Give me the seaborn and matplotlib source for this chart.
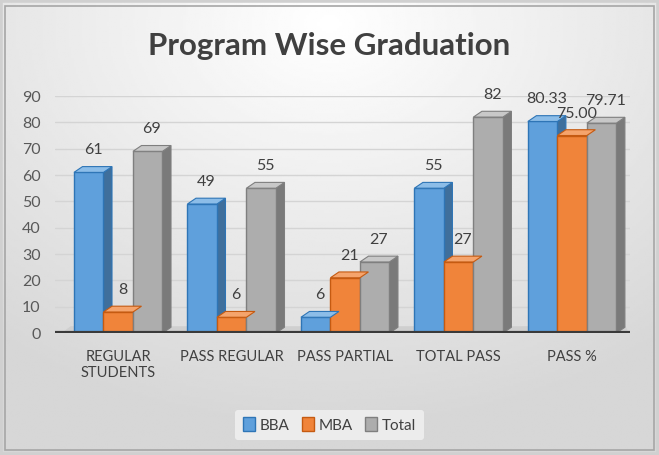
import numpy as np
import pandas as pd
import matplotlib
matplotlib.use("Agg")
import matplotlib.pyplot as plt
from matplotlib.patches import Polygon, Rectangle
import seaborn as sns

categories = ["REGULAR\nSTUDENTS", "PASS REGULAR", "PASS PARTIAL", "TOTAL PASS", "PASS %"]
series = ["BBA", "MBA", "Total"]
bba = [61, 49, 6, 55, 80.33]
mba = [8, 6, 21, 27, 75.00]
total = [69, 55, 27, 82, 79.71]
yticks = [0, 10, 20, 30, 40, 50, 60, 70, 80, 90]

colors = {"BBA": "#5fa0dc", "MBA": "#f0843a", "Total": "#adadad"}
edges = {"BBA": "#2e75b6", "MBA": "#c55a11", "Total": "#7f7f7f"}
sides = {"BBA": "#3f6f9c", "MBA": "#b35b22", "Total": "#7a7a7a"}
tops = {"BBA": "#8cbde8", "MBA": "#f5a46c", "Total": "#c8c8c8"}

rows = []
for name, vals in zip(series, [bba, mba, total]):
    for c, v in zip(categories, vals):
        rows.append({"category": c, "series": name, "value": v})
df = pd.DataFrame(rows)

sns.set_theme(style="white")
plt.rcParams["font.family"] = ["Lato", "DejaVu Sans"]

fig = plt.figure(figsize=(6.59, 4.55), dpi=100)
fig.patch.set_facecolor("#ffffff")

# background gradient panel
bg = fig.add_axes([0, 0, 1, 1], zorder=-10)
yy, xx = np.mgrid[0:1:200j, 0:1:300j]
r = np.sqrt(((xx - 0.5) * 1.1) ** 2 + ((yy - 0.05) * 1.0) ** 2)
img = 1.0 - 0.16 * np.clip(r / 0.9, 0, 1)
bg.imshow(img, cmap="gray", vmin=0, vmax=1, extent=[0, 1, 1, 0], aspect="auto")
bg.add_patch(Rectangle((0.008, 0.012), 0.984, 0.975, transform=bg.transAxes,
                       fill=False, edgecolor="#a6a6a6", lw=1.2))
bg.add_patch(Rectangle((0, 0), 1, 1, transform=bg.transAxes,
                       fill=False, edgecolor="#d0d0d0", lw=4))
bg.set_xlim(0, 1); bg.set_ylim(1, 0)
bg.axis("off")

ax = fig.add_axes([0.083, 0.268, 0.873, 0.521])
ax.patch.set_alpha(0)
sns.barplot(data=df, x="category", y="value", hue="series", hue_order=series,
            palette=colors, saturation=1, width=0.78, ax=ax, legend=False, zorder=3)

ax.set_ylim(0, 90)
ax.set_xlim(-0.56, 4.51)
ax.set_yticks(yticks)
ax.set_yticklabels([str(t) for t in yticks], fontsize=11.5, color="#595959")
ax.tick_params(axis="x", labelsize=10.5, labelcolor="#404040", length=0, pad=12)
ax.tick_params(axis="y", length=0, pad=10)
ax.set_xlabel(""); ax.set_ylabel("")
for s in ax.spines.values():
    s.set_visible(False)
for t in yticks[1:]:
    ax.axhline(t, color="#d4d4d4", lw=1, zorder=0)

# floor plane
ax.add_patch(Polygon([(-0.5, 0), (-0.42, 2.6), (4.47, 2.6), (4.5, 0)], closed=True,
                     facecolor="#cfcfcf", edgecolor="none", zorder=1))
ax.axhline(0, color="#3a3a3a", lw=3, zorder=5, xmin=0, xmax=1)

dx, dy = 0.075, 2.2
bars = [p for p in ax.patches if isinstance(p, Rectangle)]
n = len(categories)
for si, name in enumerate(series):
    vals = [bba, mba, total][si]
    for ci in range(n):
        p = bars[si * n + ci]
        x0 = p.get_x(); w = p.get_width(); h = p.get_height()
        p.set_edgecolor(edges[name]); p.set_linewidth(1.0)
        top = Polygon([(x0, h), (x0 + dx, h + dy), (x0 + w + dx, h + dy), (x0 + w, h)],
                      closed=True, facecolor=tops[name], edgecolor=edges[name], lw=0.8, zorder=4)
        side = Polygon([(x0 + w, 0), (x0 + w + dx, dy), (x0 + w + dx, h + dy), (x0 + w, h)],
                       closed=True, facecolor=sides[name], edgecolor=edges[name], lw=0.8, zorder=2)
        ax.add_patch(side); ax.add_patch(top)
        v = vals[ci]
        lab = f"{v:.2f}" if ci == n - 1 else f"{v:.0f}"
        ax.text(x0 + w / 2 + dx / 2, h + dy + 3.5, lab, ha="center", va="bottom",
                fontsize=11.5, color="#404040", zorder=6)

fig.text(0.5, 0.9, "Program Wise Graduation", ha="center", va="center",
         fontsize=22.5, fontweight="bold", color="#404040")

handles = [Rectangle((0, 0), 1, 1, facecolor=colors[s], edgecolor=edges[s], lw=1) for s in series]
leg = fig.legend(handles, series, loc="center", bbox_to_anchor=(0.5, 0.066), ncol=3,
                 frameon=True, fontsize=11, handlelength=0.8, handleheight=1.0,
                 handletextpad=0.3, columnspacing=0.8, borderpad=0.5)
leg.get_frame().set_facecolor("#f2f2f2")
leg.get_frame().set_edgecolor("none")
for t in leg.get_texts():
    t.set_color("#404040")

fig.savefig("out.png", dpi=100)
